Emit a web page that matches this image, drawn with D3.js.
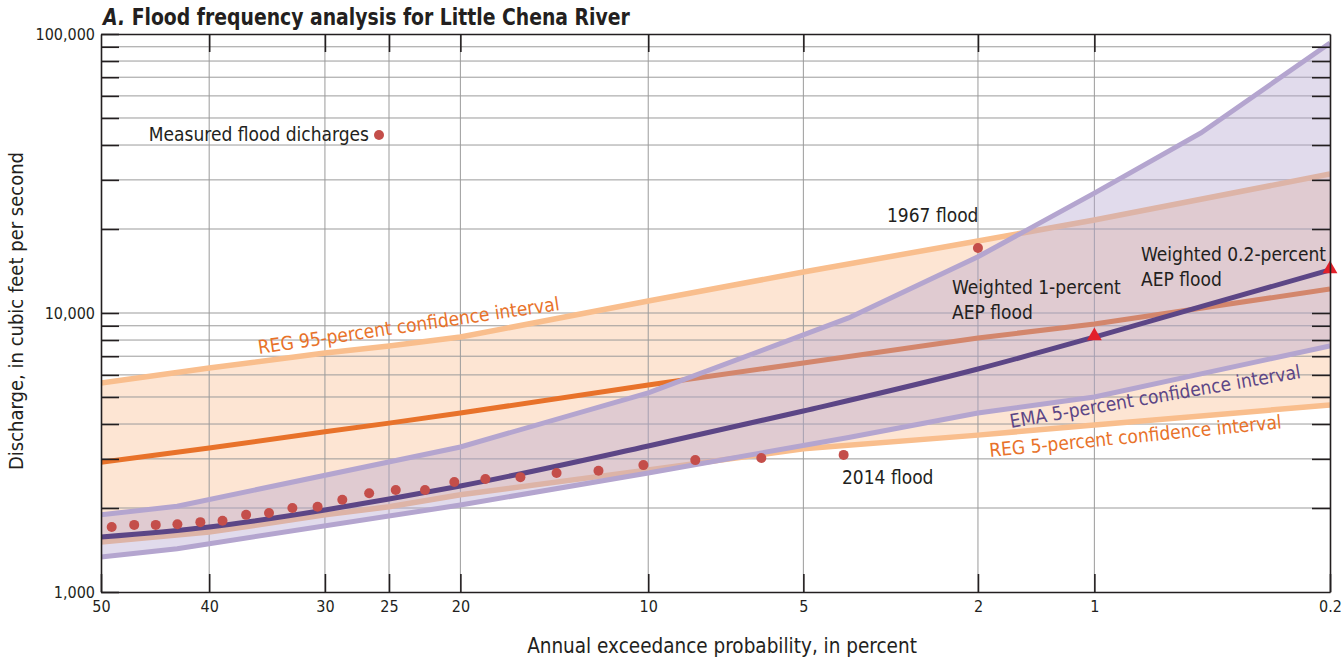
<!DOCTYPE html>
<html>
<head>
<meta charset="utf-8">
<script src="https://cdn.jsdelivr.net/npm/d3@7"></script>
<style>
  html, body { margin: 0; padding: 0; background: #fff; }
  svg { display: block; }
  text { font-family: "Liberation Sans Narrow", "Arial Narrow", "DejaVu Sans Condensed", sans-serif; fill: #231f20; }
</style>
</head>
<body>
<svg id="chart" width="1344" height="659"></svg>
<script>
// Axis ticks
const aepTicks = [50, 40, 30, 25, 20, 10, 5, 2, 1, 0.2];          // annual exceedance probability, percent
const qLabelTicks = [1000, 10000, 100000];                          // labelled discharge ticks
const qMinorTicks = [2000, 3000, 4000, 5000, 6000, 7000, 8000, 9000,
                     20000, 30000, 40000, 50000, 60000, 70000, 80000, 90000];

// Regional regression (REG) frequency curve and its confidence limits
const regAep   = [50, 40, 30, 25, 20, 10, 5, 2, 1, 0.2];
const regUpper = [5610, 6350, 7190, 7620, 8200, 11040, 14030, 18120, 21540, 31490];
const regMid   = [2920, 3280, 3750, 4030, 4380, 5520, 6620, 8140, 9130, 12190];
const regLower = [1510, 1640, 1890, 2020, 2230, 2740, 3260, 3650, 3970, 4680];

// EMA confidence limits
const emaAep   = [50, 42.92, 20, 10, 4, 2, 1, 0.5, 0.2];
const emaUpper = [1890, 2030, 3310, 5170, 9600, 15900, 26900, 44200, 92800];
const emaLower = [1335, 1430, 2050, 2670, 3580, 4380, 5000, 6050, 7620];

// Weighted frequency curve
const wAep = [50, 40, 30, 25, 20, 10, 5, 2, 1, 0.5, 0.2];
const wQ   = [1574, 1710, 1967, 2154, 2399, 3336, 4454, 6300, 8200, 10540, 14260];

// Weighted 1-percent and 0.2-percent AEP floods
const keyAep = [1, 0.2];
const keyQ   = [8200, 14260];

// Measured annual peaks (plotting position, discharge)
const peakAep = [2.0, 4.1, 6.1, 8.2, 10.2, 12.2, 14.3, 16.3, 18.4, 20.4, 22.4, 24.5,
                 26.5, 28.6, 30.6, 32.7, 34.7, 36.7, 38.8, 40.8, 42.9, 44.9, 46.9, 49.0];
const peakQ   = [17100, 3100, 3020, 2970, 2850, 2720, 2670, 2580, 2540, 2480, 2320, 2320,
                 2260, 2140, 2020, 2000, 1920, 1890, 1800, 1780, 1750, 1740, 1740, 1710];

// Inverse standard normal CDF (Acklam's rational approximation)
function normInv(p) {
  const a = [-3.969683028665376e+01, 2.209460984245205e+02, -2.759285104469687e+02,
             1.383577518672690e+02, -3.066479806614716e+01, 2.506628277459239e+00];
  const b = [-5.447609879822406e+01, 1.615858368580409e+02, -1.556989798598866e+02,
             6.680131188771972e+01, -1.328068155288572e+01];
  const c = [-7.784894002430293e-03, -3.223964580411365e-01, -2.400758277161838e+00,
             -2.549732539343734e+00, 4.374664141464968e+00, 2.938163982698783e+00];
  const d = [7.784695709041462e-03, 3.224671290700398e-01, 2.445134137142996e+00,
             3.754408661907416e+00];
  const pl = 0.02425, ph = 1 - pl;
  let q, r;
  if (p < pl) {
    q = Math.sqrt(-2 * Math.log(p));
    return (((((c[0]*q+c[1])*q+c[2])*q+c[3])*q+c[4])*q+c[5]) / ((((d[0]*q+d[1])*q+d[2])*q+d[3])*q+1);
  } else if (p <= ph) {
    q = p - 0.5; r = q * q;
    return (((((a[0]*r+a[1])*r+a[2])*r+a[3])*r+a[4])*r+a[5])*q / (((((b[0]*r+b[1])*r+b[2])*r+b[3])*r+b[4])*r+1);
  } else {
    q = Math.sqrt(-2 * Math.log(1 - p));
    return -(((((c[0]*q+c[1])*q+c[2])*q+c[3])*q+c[4])*q+c[5]) / ((((d[0]*q+d[1])*q+d[2])*q+d[3])*q+1);
  }
}
const zOf = aep => normInv(1 - aep / 100);

const plotL = 101, plotR = 1330, plotT = 34, plotB = 592;
const svg = d3.select("#chart");

// Probability scale: linear in standard normal deviate
const xz = d3.scaleLinear().domain([zOf(50), zOf(0.2)]).range([plotL, plotR]);
const x = aep => xz(zOf(aep));
const y = d3.scaleLog().domain([1000, 100000]).range([plotB, plotT]);

const colors = {
  regBand: "#fde5d3", regLimit: "#f9be8d", regMid: "#e8722a",
  emaLimit: "#b4a5cf", weighted: "#5c4686", peak: "#c44e4a", key: "#e3202a",
  grid: "#9b9b9b", ink: "#231f20"
};

svg.append("defs").append("clipPath").attr("id", "plot-clip")
  .append("rect").attr("x", plotL).attr("y", plotT).attr("width", plotR - plotL).attr("height", plotB - plotT);

const bandLayer = svg.append("g").attr("clip-path", "url(#plot-clip)");
const gridLayer = svg.append("g");
const plot = svg.append("g").attr("clip-path", "url(#plot-clip)");

const zip = (a, q) => a.map((p, i) => [p, q[i]]);
const lineGen = d3.line().x(d => x(d[0])).y(d => y(d[1]));
const bandGen = d3.area().x(d => x(d[0])).y0(d => y(d[1])).y1(d => y(d[2]));

// REG confidence band
bandLayer.append("path")
  .datum(regAep.map((p, i) => [p, regLower[i], regUpper[i]]))
  .attr("d", bandGen).attr("fill", colors.regBand);

// Grid
gridLayer.selectAll("line.h").data(qMinorTicks.concat([10000])).join("line").attr("class", "h")
  .attr("x1", plotL).attr("x2", plotR).attr("y1", d => y(d)).attr("y2", d => y(d))
  .attr("stroke", colors.grid).attr("stroke-width", 1);
gridLayer.selectAll("line.v").data(aepTicks.slice(1, -1)).join("line").attr("class", "v")
  .attr("y1", plotT).attr("y2", plotB).attr("x1", d => x(d)).attr("x2", d => x(d))
  .attr("stroke", colors.grid).attr("stroke-width", 1);

// REG lines
[[regUpper, colors.regLimit, 5.5], [regLower, colors.regLimit, 5.5], [regMid, colors.regMid, 5]].forEach(([q, c, w]) => {
  plot.append("path").datum(zip(regAep, q)).attr("d", lineGen)
    .attr("fill", "none").attr("stroke", c).attr("stroke-width", w);
});

// EMA confidence band, translucent over the REG layer
plot.append("path")
  .datum(emaAep.map((p, i) => [p, emaLower[i], emaUpper[i]]))
  .attr("d", bandGen).attr("fill", colors.emaLimit).attr("fill-opacity", 0.4);

[emaUpper, emaLower].forEach(q => {
  plot.append("path").datum(zip(emaAep, q)).attr("d", lineGen)
    .attr("fill", "none").attr("stroke", colors.emaLimit).attr("stroke-width", 5);
});

// Weighted curve
plot.append("path").datum(zip(wAep, wQ))
  .attr("d", d3.line().x(d => x(d[0])).y(d => y(d[1])).curve(d3.curveMonotoneX))
  .attr("fill", "none").attr("stroke", colors.weighted).attr("stroke-width", 5);

// Measured peaks
svg.append("g").selectAll("circle").data(zip(peakAep, peakQ)).join("circle")
  .attr("cx", d => x(d[0])).attr("cy", d => y(d[1])).attr("r", 5).attr("fill", colors.peak);

// Weighted AEP floods
svg.append("g").selectAll("path").data(zip(keyAep, keyQ)).join("path")
  .attr("transform", d => `translate(${x(d[0])},${y(d[1]) - 1})`)
  .attr("d", d3.symbol(d3.symbolTriangle, 95)).attr("fill", colors.key);

// Axes
const allQ = qMinorTicks.concat([10000]);
const fmt = d3.format(",");
const axL = svg.append("g").attr("transform", `translate(${plotL},0)`)
  .call(d3.axisLeft(y).tickValues(allQ.concat([1000, 100000])).tickSize(-18).tickSizeOuter(0).tickPadding(6)
    .tickFormat(d => qLabelTicks.includes(d) ? fmt(d) : ""));
const axR = svg.append("g").attr("transform", `translate(${plotR},0)`)
  .call(d3.axisRight(y).tickValues(allQ).tickSize(-18).tickSizeOuter(0).tickFormat(""));
const axB = svg.append("g").attr("transform", `translate(0,${plotB})`)
  .call(d3.axisBottom(xz).tickValues(aepTicks.map(zOf)).tickSize(-18).tickSizeOuter(0).tickPadding(9)
    .tickFormat((d, i) => aepTicks[i]));
const axT = svg.append("g").attr("transform", `translate(0,${plotT})`)
  .call(d3.axisTop(xz).tickValues(aepTicks.slice(1, -1).map(zOf)).tickSize(-18).tickSizeOuter(0).tickFormat(""));

[axL, axR, axB, axT].forEach(g => {
  g.select(".domain").attr("stroke", colors.ink).attr("stroke-width", 1.6);
  g.selectAll(".tick line").attr("stroke", colors.ink).attr("stroke-width", 1.6);
  g.selectAll(".tick text").attr("font-size", 16).attr("fill", colors.ink)
    .style("font-family", '"Liberation Sans Narrow", "Arial Narrow", "DejaVu Sans Condensed", sans-serif');
});

// Axis titles
svg.append("text").attr("x", 722).attr("y", 653).attr("text-anchor", "middle")
  .attr("font-size", 20.5).text("Annual exceedance probability, in percent");
svg.append("text").attr("transform", `translate(23,${(plotT + plotB) / 2 - 2}) rotate(-90)`)
  .attr("text-anchor", "middle").attr("font-size", 20).text("Discharge, in cubic feet per second");

// Title
const title = svg.append("text").attr("transform", "translate(103,25) scale(0.91,1)")
  .attr("font-size", 23).attr("font-weight", "bold");
title.append("tspan").attr("font-style", "italic").text("A.");
title.append("tspan").text(" Flood frequency analysis for Little Chena River");

// Annotations
const note = (tx, ty, str, opts = {}) => {
  const t = svg.append("text").attr("font-size", opts.size || 19)
    .attr("transform", `translate(${tx},${ty}) rotate(${opts.angle || 0})`)
    .attr("text-anchor", opts.anchor || "start").text(str);
  if (opts.color) t.style("fill", opts.color);
  return t;
};
note(369, 141, "Measured flood dicharges", { anchor: "end" });
svg.append("circle").attr("cx", 379).attr("cy", 135).attr("r", 5).attr("fill", colors.peak);

note(887, 222, "1967 flood");
note(952, 294, "Weighted 1-percent");
note(952, 319, "AEP flood");
note(1141, 261, "Weighted 0.2-percent");
note(1141, 286, "AEP flood");
note(842, 484, "2014 flood");

note(259, 354, "REG 95-percent confidence interval", { angle: -8.3, color: colors.regMid });
note(1011, 428, "EMA 5-percent confidence interval", { angle: -9.8, color: colors.weighted });
note(990, 457, "REG 5-percent confidence interval", { angle: -5.6, color: colors.regMid });
</script>
</body>
</html>
